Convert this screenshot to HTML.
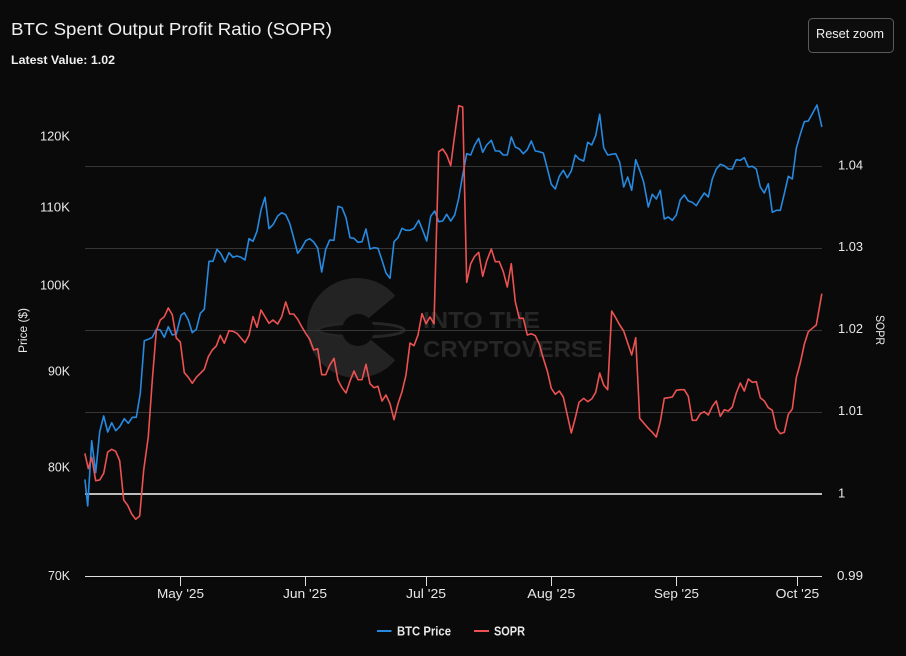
<!DOCTYPE html>
<html>
<head>
<meta charset="utf-8">
<style>
  html, body { margin:0; padding:0; background:#0a0a0a; }
  body { width:906px; height:656px; overflow:hidden; }
  svg { display:block; }
  text { font-family: "Liberation Sans", "DejaVu Sans", sans-serif; }
</style>
</head>
<body>
<svg width="906" height="656" viewBox="0 0 906 656" xmlns="http://www.w3.org/2000/svg">
  <rect x="0" y="0" width="906" height="656" fill="#0a0a0a"/>

  <!-- Watermark -->
  <path d="M357,328 L395.3,295.9 A50,50 0 1 0 395.3,360.1 Z" style="fill:#232323"/>
  <ellipse cx="361" cy="330" rx="43" ry="7" style="fill:#0e0e0e;stroke:#262626;stroke-width:3"/>
  <circle cx="358" cy="330" r="16" style="fill:#0b0b0b"/>
  <text x="423" y="328" font-size="23" font-weight="bold" textLength="117" lengthAdjust="spacingAndGlyphs" style="fill:#262626">INTO THE</text>
  <text x="423" y="357" font-size="23" font-weight="bold" textLength="180" lengthAdjust="spacingAndGlyphs" style="fill:#262626">CRYPTOVERSE</text>

  <!-- Title -->
  <text x="11" y="35" font-size="17.5" textLength="321" lengthAdjust="spacingAndGlyphs" style="fill:#f0f0f0">BTC Spent Output Profit Ratio (SOPR)</text>
  <text x="11" y="64" font-size="11.5" font-weight="bold" textLength="104" lengthAdjust="spacingAndGlyphs" style="fill:#f0f0f0">Latest Value: 1.02</text>

  <!-- Reset zoom button -->
  <rect x="808.5" y="18.5" width="85" height="34" rx="4" ry="4" fill="#0d0d0d" stroke="#5a5a5a" stroke-width="1"/>
  <text x="816" y="38" font-size="12.5" textLength="68" lengthAdjust="spacingAndGlyphs" style="fill:#f0f0f0">Reset zoom</text>

  <!-- Gridlines -->
  <g stroke="#363636" stroke-width="1">
    <line x1="85" y1="166.5" x2="822" y2="166.5"/>
    <line x1="85" y1="248.5" x2="822" y2="248.5"/>
    <line x1="85" y1="330.5" x2="822" y2="330.5"/>
    <line x1="85" y1="412.5" x2="822" y2="412.5"/>
  </g>
  <!-- SOPR = 1 line -->
  <line x1="85" y1="494" x2="822" y2="494" stroke="#bdbdbd" stroke-width="2"/>

  <!-- X axis -->
  <line x1="85" y1="576.5" x2="822" y2="576.5" stroke="#e0e0e0" stroke-width="1"/>
  <g stroke="#e0e0e0" stroke-width="1">
    <line x1="180.5" y1="576" x2="180.5" y2="586"/>
    <line x1="305.5" y1="576" x2="305.5" y2="586"/>
    <line x1="426.5" y1="576" x2="426.5" y2="586"/>
    <line x1="551.5" y1="576" x2="551.5" y2="586"/>
    <line x1="676.5" y1="576" x2="676.5" y2="586"/>
    <line x1="797.5" y1="576" x2="797.5" y2="586"/>
  </g>
  <g font-size="13" text-anchor="middle" style="fill:#e8e8e8">
    <text x="180.5" y="598" textLength="47" lengthAdjust="spacingAndGlyphs">May '25</text>
    <text x="305" y="598" textLength="44" lengthAdjust="spacingAndGlyphs">Jun '25</text>
    <text x="426" y="598" textLength="40" lengthAdjust="spacingAndGlyphs">Jul '25</text>
    <text x="551.3" y="598" textLength="48" lengthAdjust="spacingAndGlyphs">Aug '25</text>
    <text x="676.5" y="598" textLength="45" lengthAdjust="spacingAndGlyphs">Sep '25</text>
    <text x="797.5" y="598" textLength="43.6" lengthAdjust="spacingAndGlyphs">Oct '25</text>
  </g>

  <!-- Left axis labels -->
  <g font-size="13" text-anchor="end" style="fill:#e8e8e8">
    <text x="70" y="140.7" textLength="30" lengthAdjust="spacingAndGlyphs">120K</text>
    <text x="70" y="211.7" textLength="30" lengthAdjust="spacingAndGlyphs">110K</text>
    <text x="70" y="289.3" textLength="30" lengthAdjust="spacingAndGlyphs">100K</text>
    <text x="70" y="375.3" textLength="22" lengthAdjust="spacingAndGlyphs">90K</text>
    <text x="70" y="471.3" textLength="22" lengthAdjust="spacingAndGlyphs">80K</text>
    <text x="70" y="580" textLength="22" lengthAdjust="spacingAndGlyphs">70K</text>
  </g>
  <text transform="translate(27,330.5) rotate(-90)" font-size="11.5" text-anchor="middle" textLength="45" lengthAdjust="spacingAndGlyphs" style="fill:#e8e8e8">Price ($)</text>

  <!-- Right axis labels -->
  <g font-size="13" style="fill:#e8e8e8">
    <text x="838" y="169.5" textLength="25" lengthAdjust="spacingAndGlyphs">1.04</text>
    <text x="838" y="251.2" textLength="25" lengthAdjust="spacingAndGlyphs">1.03</text>
    <text x="838" y="333.2" textLength="25" lengthAdjust="spacingAndGlyphs">1.02</text>
    <text x="838" y="415.2" textLength="25" lengthAdjust="spacingAndGlyphs">1.01</text>
    <text x="838" y="497.7">1</text>
    <text x="837" y="580" textLength="26" lengthAdjust="spacingAndGlyphs">0.99</text>
  </g>
  <text transform="translate(876,330) rotate(90)" font-size="11.5" text-anchor="middle" textLength="30" lengthAdjust="spacingAndGlyphs" style="fill:#e8e8e8">SOPR</text>

  <!-- BTC Price series -->
  <polyline fill="none" stroke="#2789e0" stroke-width="1.6" stroke-linejoin="round" stroke-linecap="round"
    points="85,480 87.7,506 91.7,440.7 95.7,472.7 99.7,431.7 103.7,416 107.7,432 111.7,422.7 115.7,430.7 119.7,426.7 124.3,418.7 128.3,423.3 132.3,417.3 136.3,417.3 140.3,393.3 144.3,340.7 148.3,339.3 152.3,337.3 156.3,329.3 160.3,330 164.3,337.3 168.3,326.7 172.3,335 176.3,334 181,315.3 184.3,312.7 188.3,320 192.3,332.7 196.3,329.3 200.3,313.3 204.3,309.3 209,261.3 213,261.3 217,249.3 221,254 225,262 229,252.7 233,257.3 237,256 241,257.3 245,260 249,238.7 253,241.3 257,231.3 261,210 265,197.3 269,228.7 273,224.7 277.7,216 281.7,212.7 285.7,214.7 289.7,223.3 293.7,238 297.7,253.3 301.7,248 305.7,240.7 309.7,238.7 313.7,242 317.7,248 321.7,272 325.7,249.3 329.7,240 334,240.3 338,206.3 342,207.7 346,217.7 350,237.7 354,238.3 358,242.3 362,241.7 366,229 370,249 374,247.7 378,248.3 382,260.3 386,273 390,278.3 394,241.7 398,237.7 402,228.3 406,230.3 410,230.3 414,228.3 418.7,220.3 422.7,230.3 426.7,241 430.7,216.3 434.7,211 438.7,221.7 442.7,221 446.7,214.3 450.7,221 454.7,215 458.7,198.3 462.7,175 466.7,153.7 470.7,155 474.7,145 478.7,138.3 482.7,152.3 486.7,145 491.3,140.3 495.3,151 499.3,151 503.3,155 507.3,155 511.3,137 515.3,147 519.3,149 523.3,153.7 527.3,149.7 531.3,141 535.3,151 539.3,151.7 543.3,153 547.3,168.3 551.3,184.3 555.3,189 559.3,176.3 563.3,170.3 567.3,177.7 571.3,171 575.3,155 579,159 583.7,161 587.7,142.3 591.7,145 595.7,135.7 599.7,114.3 603.7,147.7 607.7,155 611.7,154.3 615.7,153.7 619.7,162.3 623.7,187 627.7,177 631.7,190.3 635.7,159.7 639.7,170.3 643.7,182.3 648.3,207 652.3,194.3 656.3,199 660.3,190.3 664.3,219 668.3,217 672.3,220.3 676.3,215 680.3,199.7 684.3,195 688.3,201 692.3,202.3 696.3,205.7 700.3,199 704.3,193 708.3,197 712.3,179 716.3,169 720.3,164.3 724.3,165.7 728.3,169 732.3,169 736.3,159.7 740.3,160.3 744.3,157.7 748.3,167 752.3,166.3 756.3,169 760.3,187 764.3,193 768.3,183.7 772.3,212.3 776.3,210.3 780.3,210.3 784.3,193.7 788.3,176.3 792.3,179 796.3,148.3 800.3,134.3 804.3,121.7 808.3,121 812.3,113.7 817,105 821.7,126.3"/>

  <!-- SOPR series -->
  <polyline fill="none" stroke="#ec5252" stroke-width="1.6" stroke-linejoin="round" stroke-linecap="round"
    points="85,454 88.3,468.7 91.7,457.3 95.7,480.7 99.7,480 103.7,473.3 107.7,452 111.7,449.3 115.7,451.3 119.7,460.7 123.7,500 127.7,505.3 131.7,514 135.7,519.3 139.7,516 143.7,470 148.3,436.7 152.3,380 156.3,330.7 160.3,320 164.3,316.7 168.3,308 172.3,314.7 176.3,338 180.3,342 184.3,372.7 188.3,377.3 192.3,383.3 196.3,377.3 200.3,373.3 204.3,369.3 208.3,356.7 212.3,350 216.3,346 220.3,335.3 224.3,343.3 229,330.7 233,331.3 237,333.3 241,338 245,342.7 249,335.3 253,316.7 257,327.3 261,310 265,316.7 269,323.3 273,320 277.7,324 281.7,316.7 285.7,302 289.7,314 293.7,314 297.7,319.3 301.7,326.7 305.7,333.3 309.7,339.3 313.7,350 317.7,348.7 321.7,374.7 325.7,374.7 329.7,365.3 334,358.3 338,380.3 342,387.7 346,393 350,381 354,371 358,379.7 362,379.7 366,364.3 370,383.7 374,387.7 378,386.3 382,401 386,395 390,403.7 394,419.7 398,403.7 402,391.7 406,375 410,343 414,345.7 418,335 422,313.7 426,323.7 430,317 434,323.7 438.7,151.7 442.7,149 446.7,155 450.7,165.7 454.7,135 458.7,105.7 462.7,107 466.7,282.3 470.7,263.7 474.7,256.3 478.7,252.3 482.7,276.3 486.7,261 491.3,249 495.3,261.7 499.3,261.7 503.3,271.7 507.3,287 511.3,263.7 515.3,301.7 519.3,318.3 523.3,318.3 527.3,335 531.3,333.7 535.3,335.7 539.3,344.3 543.3,358.3 547.3,371 551.3,388.3 555.3,394.3 559.3,391 563.3,397 567.3,415 571.3,433 575.3,418 579,402.3 583.7,398.3 587.7,401.7 591.7,399 595.7,392.3 599.7,373 603.7,385 607.7,389.7 611.7,311 615.7,317.7 619.7,325 623.7,331 627.7,343 631.7,355 635.7,337.7 639.7,418.3 643.7,423 648.3,428.3 652.3,432.3 656.3,437 660.3,421.7 664.3,398.3 668.3,397.7 672.3,397 676.3,390.3 680.3,389.7 684.3,389.7 688.3,396.3 692.3,420.3 696.3,420.3 700.3,413.7 704.3,411.7 708.3,415 712.3,406.3 716.3,401 720.3,416.3 724.3,409.7 728.3,411 732.3,407 736.3,393 740.3,383 744.3,391 748.3,379 752.3,382.3 756.3,381.7 760.3,397.7 764.3,401 768.3,407.7 772.3,410.3 776.3,428.3 780.3,433.7 784.3,432.3 788.3,414.3 792.3,409 796.3,377.7 800.3,363 804.3,344.3 808.3,331.7 812.3,328.3 816.3,325 821.7,294.3"/>

  <!-- Legend -->
  <line x1="377" y1="631" x2="391.5" y2="631" stroke="#2789e0" stroke-width="2"/>
  <text x="397" y="635.5" font-size="12.5" font-weight="bold" textLength="54" lengthAdjust="spacingAndGlyphs" style="fill:#e8e8e8">BTC Price</text>
  <line x1="474" y1="631" x2="489" y2="631" stroke="#ec5252" stroke-width="2"/>
  <text x="494" y="635.5" font-size="12.5" font-weight="bold" textLength="31" lengthAdjust="spacingAndGlyphs" style="fill:#e8e8e8">SOPR</text>
</svg>
</body>
</html>
